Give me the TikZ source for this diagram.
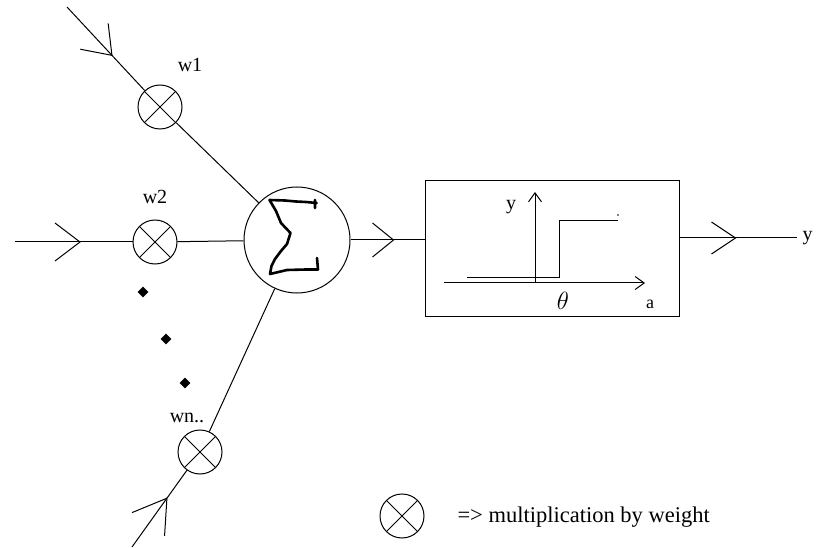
\documentclass[tikz,border=0pt]{standalone}
\usepackage{fontspec}
\setmainfont{Liberation Serif}
\usetikzlibrary{arrows.meta,decorations.markings,shapes.geometric}

\begin{document}
\begin{tikzpicture}[x=1pt,y=-1pt,line width=1pt,
  % weight multiplier: circle with a cross
  mult/.style={circle,draw,minimum size=44pt,inner sep=0pt,
    path picture={\draw[line width=1pt]
      (path picture bounding box.north west) -- (path picture bounding box.south east)
      (path picture bounding box.north east) -- (path picture bounding box.south west);}},
  summer/.style={circle,draw,minimum size=106pt,inner sep=0pt},
  actbox/.style={draw,minimum width=254pt,minimum height=135pt,inner sep=0pt},
  lbl/.style={font=\fontsize{20}{22}\selectfont,inner sep=0pt},
  dot/.style={diamond,fill,inner sep=0pt,minimum size=11pt},
  % open V arrowhead placed along a line
  barb/.style n args={3}{postaction={decorate,decoration={markings,
    mark=at position #1 with {\draw[line width=1pt] (-#2,#3) -- (0pt,0pt) -- (-#2,-#3);}}}},
  axis/.style={-{Straight Barb[length=9pt,width=13pt]}}
]
\useasboundingbox (0,0) rectangle (817,548);

% neurons and blocks
\node[summer] (sum) at (297,240) {};
\node[mult] (m1) at (160,107) {};
\node[mult] (m2) at (155,242) {};
\node[mult] (mn) at (200,452) {};
\node[actbox] (act) at (552,248.5) {};

% free ends of the input and output lines
\coordinate (in1) at (67,7);
\coordinate (in2) at (15,242);
\coordinate (inn) at (132,547);
\coordinate (out) at (797,238);

% input lines
\draw[barb={66pt}{26pt}{19pt}] (in1) -- (m1);
\draw (m1) -- (sum);
\draw[barb={65pt}{25pt}{19pt}] (in2) -- (m2);
\draw (m2) -- (sum);
\draw[barb={60pt}{32pt}{20pt}] (inn) -- (mn);
\draw (mn) -- (sum);

% sum to activation block, and output
\draw[barb={43pt}{21pt}{17pt}] (sum.east) -- (act.west |- sum.east);
\draw[barb={56pt}{24pt}{16pt}] (act.east |- out) -- (out);

% weight labels
\node[lbl] (w1) at (190,65) {w1};
\node[lbl] (w2) at (155,197) {w2};
\node[lbl] (wn) at (187,418) {wn..};
\node[lbl,anchor=west] (y) at (802,238) {y};

% ellipsis dots between the inputs
\node[dot] (d1) at (143,292) {};
\node[dot] (d2) at (166,339) {};
\node[dot] (d3) at (185,383) {};

% summation sign, drawn by hand
\draw[line width=2.6pt,line join=round,line cap=round]
  (315,208) -- (315,200) (316.7,203) -- (306,202) -- (296,201.5) -- (285,200.5) -- (269.5,200)
  -- (276,211) -- (281,223) -- (290.5,233) -- (287,244) -- (281,251) -- (275,259)
  -- (271.5,266) -- (270,274) -- (287,270) -- (306,269.5) -- (318,269.5) -- (317,258);

% step activation function
\coordinate (ax0) at (444,283);
\coordinate (ax1) at (645,283);
\coordinate (ay0) at (535,283);
\coordinate (ay1) at (535,192);
\draw[axis] (ax0) -- (ax1);
\draw[axis] (ay0) -- (ay1);
\draw (467,278) -- (559,278) -- (559,221) -- (618,221);
\fill (618,215) circle (0.8pt);
\node[lbl] (ylab) at (511,207) {y};
\node[inner sep=0pt,font=\fontsize{24}{26}\selectfont] (th) at (563,301) {$\theta$};
\node[inner sep=0pt,font=\fontsize{18}{20}\selectfont] (alab) at (650,304) {a};

% legend
\node[mult] (key) at (402,516) {};
\node[inner sep=0pt,anchor=west,font=\fontsize{22.5}{24}\selectfont] (keytext) at (457,517) {=> multiplication by weight};
\end{tikzpicture}
\end{document}
